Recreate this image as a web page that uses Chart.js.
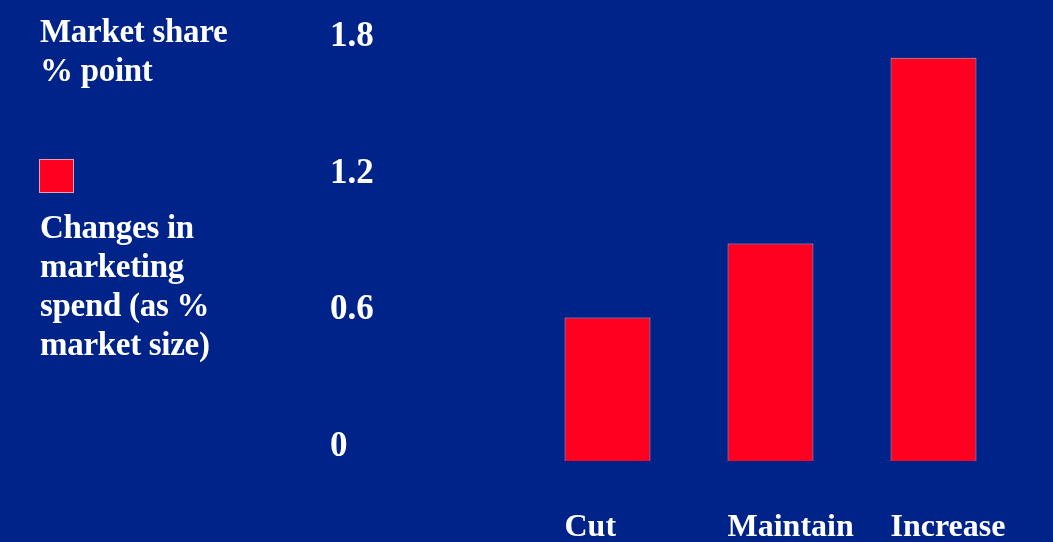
<!DOCTYPE html>
<html>
<head>
<meta charset="utf-8">
<script src="https://cdn.jsdelivr.net/npm/chart.js@4/dist/chart.umd.min.js"></script>
<style>
  html, body { margin: 0; padding: 0; background: #00238a; }
  #wrap { position: relative; width: 1053px; height: 542px; }
  #legend { position: absolute; left: 40px; top: 0; color: #fff;
            font: bold 33px "Liberation Serif", serif; letter-spacing: -0.3px; }
  #legend .line { position: absolute; left: 0; white-space: nowrap; }
  #legend .swatch { position: absolute; left: -1px; top: 159px; width: 35px; height: 34px;
                    background: #ff0020; border: 1px solid #e8a0b0; box-sizing: border-box; }
</style>
</head>
<body>
<div id="wrap">
  <canvas id="bar-chart" width="1053" height="542"></canvas>
  <div id="legend"></div>
</div>
<script>
var categories = ['Cut', 'Maintain', 'Increase'];
var shareValues = [0.63, 0.955, 1.77];
var yTickLabels = ['0', '0.6', '1.2', '1.8'];
var axisTitle = ['Market share', '% point'];
var seriesName = ['Changes in', 'marketing', 'spend (as %', 'market size)'];

// left-hand text block (axis title + legend)
var legend = document.getElementById('legend');
var titleTops = [13, 52];
axisTitle.forEach(function(t, i) {
    var d = document.createElement('div');
    d.className = 'line';
    d.style.top = titleTops[i] + 'px';
    d.textContent = t;
    legend.appendChild(d);
});
var sw = document.createElement('div');
sw.className = 'swatch';
legend.appendChild(sw);
seriesName.forEach(function(t, i) {
    var d = document.createElement('div');
    d.className = 'line';
    d.style.top = (209 + i * 39) + 'px';
    d.textContent = t;
    legend.appendChild(d);
});

var tickFont = { family: '"Liberation Serif", serif', size: 32, weight: 'bold' };

var chart = new Chart(document.getElementById('bar-chart'), {
    type: 'bar',
    data: {
        labels: categories,
        datasets: [{
            label: seriesName.join(' '),
            data: shareValues,
            backgroundColor: '#ff0020',
            borderColor: '#e8a0b0',
            borderWidth: 1,
            categoryPercentage: 1,
            barPercentage: 0.527
        }]
    },
    options: {
        responsive: false,
        animation: false,
        layout: { padding: { left: 330, top: 51, right: 38, bottom: 0 } },
        plugins: {
            legend: { display: false },
            title: { display: false },
            tooltip: { enabled: false }
        },
        scales: {
            x: {
                grid: { display: false, drawTicks: false },
                border: { display: false },
                ticks: {
                    color: '#fff',
                    font: tickFont,
                    align: 'start',
                    labelOffset: -43,
                    padding: 48,
                    maxRotation: 0
                },
                afterFit: function(scale) {
                    scale.height = 81;
                    scale.paddingLeft = 0;
                    scale.paddingRight = 0;
                }
            },
            y: {
                min: 0,
                max: 1.8,
                grid: { display: false, drawTicks: false },
                border: { display: false },
                ticks: {
                    stepSize: 0.6,
                    color: '#fff',
                    font: { family: '"Liberation Serif", serif', size: 35, weight: 'bold' },
                    crossAlign: 'far',
                    labelOffset: -14,
                    callback: function(v, i) { return yTickLabels[i]; }
                },
                afterFit: function(scale) { scale.width = 196; }
            }
        }
    }
});
</script>
</body>
</html>
